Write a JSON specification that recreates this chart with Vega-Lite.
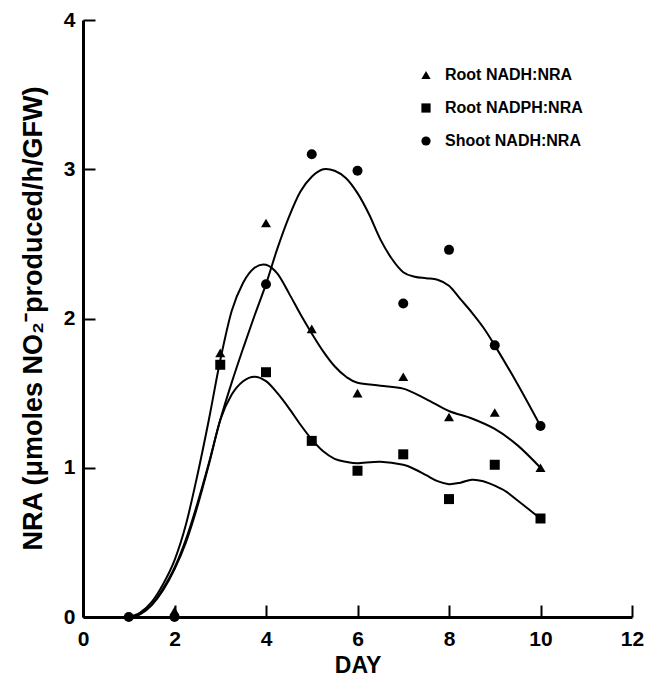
{
  "$schema": "https://vega.github.io/schema/vega-lite/v6.json",
  "width": 549,
  "height": 597,
  "autosize": {"type": "none"},
  "padding": {"left": 83, "top": 20, "right": 14, "bottom": 62},
  "background": "white",
  "config": {
    "view": {"stroke": null},
    "font": "Liberation Sans",
    "axis": {
      "grid": false,
      "domainColor": "black",
      "domainWidth": 3,
      "tickColor": "black",
      "tickWidth": 2,
      "tickSize": -12,
      "labelFont": "Liberation Sans",
      "labelFontWeight": "bold",
      "labelFontSize": 21,
      "labelColor": "black",
      "labelFlush": false,
      "labelOverlap": false,
      "titleFont": "Liberation Sans",
      "titleFontWeight": "bold",
      "titleColor": "black"
    }
  },
  "datasets": {
    "pts": [
      {"day": 1, "nra": 0, "series": "Shoot NADH:NRA"},
      {"day": 2, "nra": 0.0, "series": "Shoot NADH:NRA"},
      {"day": 2, "nra": 0.04, "series": "Root NADH:NRA"},
      {"day": 3, "nra": 1.77, "series": "Root NADH:NRA"},
      {"day": 4, "nra": 2.64, "series": "Root NADH:NRA"},
      {"day": 5, "nra": 1.93, "series": "Root NADH:NRA"},
      {"day": 6, "nra": 1.5, "series": "Root NADH:NRA"},
      {"day": 7, "nra": 1.61, "series": "Root NADH:NRA"},
      {"day": 8, "nra": 1.34, "series": "Root NADH:NRA"},
      {"day": 9, "nra": 1.37, "series": "Root NADH:NRA"},
      {"day": 10, "nra": 1.0, "series": "Root NADH:NRA"},
      {"day": 3, "nra": 1.69, "series": "Root NADPH:NRA"},
      {"day": 4, "nra": 1.64, "series": "Root NADPH:NRA"},
      {"day": 5, "nra": 1.18, "series": "Root NADPH:NRA"},
      {"day": 6, "nra": 0.98, "series": "Root NADPH:NRA"},
      {"day": 7, "nra": 1.09, "series": "Root NADPH:NRA"},
      {"day": 8, "nra": 0.79, "series": "Root NADPH:NRA"},
      {"day": 9, "nra": 1.02, "series": "Root NADPH:NRA"},
      {"day": 10, "nra": 0.66, "series": "Root NADPH:NRA"},
      {"day": 4, "nra": 2.23, "series": "Shoot NADH:NRA"},
      {"day": 5, "nra": 3.1, "series": "Shoot NADH:NRA"},
      {"day": 6, "nra": 2.99, "series": "Shoot NADH:NRA"},
      {"day": 7, "nra": 2.1, "series": "Shoot NADH:NRA"},
      {"day": 8, "nra": 2.46, "series": "Shoot NADH:NRA"},
      {"day": 9, "nra": 1.82, "series": "Shoot NADH:NRA"},
      {"day": 10, "nra": 1.28, "series": "Shoot NADH:NRA"}
    ],
    "curve": [
      {"day": 1.0, "nra": 0.0, "series": "Root NADH:NRA"},
      {"day": 1.25, "nra": 0.03, "series": "Root NADH:NRA"},
      {"day": 1.5, "nra": 0.1, "series": "Root NADH:NRA"},
      {"day": 1.75, "nra": 0.22, "series": "Root NADH:NRA"},
      {"day": 2.0, "nra": 0.38, "series": "Root NADH:NRA"},
      {"day": 2.25, "nra": 0.62, "series": "Root NADH:NRA"},
      {"day": 2.5, "nra": 0.95, "series": "Root NADH:NRA"},
      {"day": 2.75, "nra": 1.32, "series": "Root NADH:NRA"},
      {"day": 3.0, "nra": 1.72, "series": "Root NADH:NRA"},
      {"day": 3.25, "nra": 2.05, "series": "Root NADH:NRA"},
      {"day": 3.5, "nra": 2.24, "series": "Root NADH:NRA"},
      {"day": 3.75, "nra": 2.34, "series": "Root NADH:NRA"},
      {"day": 4.0, "nra": 2.36, "series": "Root NADH:NRA"},
      {"day": 4.25, "nra": 2.3, "series": "Root NADH:NRA"},
      {"day": 4.5, "nra": 2.17, "series": "Root NADH:NRA"},
      {"day": 4.75, "nra": 2.03, "series": "Root NADH:NRA"},
      {"day": 5.0, "nra": 1.9, "series": "Root NADH:NRA"},
      {"day": 5.25, "nra": 1.78, "series": "Root NADH:NRA"},
      {"day": 5.5, "nra": 1.68, "series": "Root NADH:NRA"},
      {"day": 5.75, "nra": 1.61, "series": "Root NADH:NRA"},
      {"day": 6.0, "nra": 1.57, "series": "Root NADH:NRA"},
      {"day": 6.5, "nra": 1.55, "series": "Root NADH:NRA"},
      {"day": 7.0, "nra": 1.53, "series": "Root NADH:NRA"},
      {"day": 7.5, "nra": 1.46, "series": "Root NADH:NRA"},
      {"day": 8.0, "nra": 1.38, "series": "Root NADH:NRA"},
      {"day": 8.5, "nra": 1.33, "series": "Root NADH:NRA"},
      {"day": 9.0, "nra": 1.26, "series": "Root NADH:NRA"},
      {"day": 9.5, "nra": 1.15, "series": "Root NADH:NRA"},
      {"day": 10.0, "nra": 1.0, "series": "Root NADH:NRA"},
      {"day": 1.0, "nra": 0.0, "series": "Root NADPH:NRA"},
      {"day": 1.25, "nra": 0.02, "series": "Root NADPH:NRA"},
      {"day": 1.5, "nra": 0.08, "series": "Root NADPH:NRA"},
      {"day": 1.75, "nra": 0.18, "series": "Root NADPH:NRA"},
      {"day": 2.0, "nra": 0.32, "series": "Root NADPH:NRA"},
      {"day": 2.25, "nra": 0.5, "series": "Root NADPH:NRA"},
      {"day": 2.5, "nra": 0.74, "series": "Root NADPH:NRA"},
      {"day": 2.75, "nra": 1.02, "series": "Root NADPH:NRA"},
      {"day": 3.0, "nra": 1.32, "series": "Root NADPH:NRA"},
      {"day": 3.25, "nra": 1.49, "series": "Root NADPH:NRA"},
      {"day": 3.5, "nra": 1.58, "series": "Root NADPH:NRA"},
      {"day": 3.75, "nra": 1.61, "series": "Root NADPH:NRA"},
      {"day": 4.0, "nra": 1.58, "series": "Root NADPH:NRA"},
      {"day": 4.25, "nra": 1.5, "series": "Root NADPH:NRA"},
      {"day": 4.5, "nra": 1.4, "series": "Root NADPH:NRA"},
      {"day": 4.75, "nra": 1.29, "series": "Root NADPH:NRA"},
      {"day": 5.0, "nra": 1.19, "series": "Root NADPH:NRA"},
      {"day": 5.25, "nra": 1.11, "series": "Root NADPH:NRA"},
      {"day": 5.5, "nra": 1.06, "series": "Root NADPH:NRA"},
      {"day": 5.75, "nra": 1.04, "series": "Root NADPH:NRA"},
      {"day": 6.0, "nra": 1.03, "series": "Root NADPH:NRA"},
      {"day": 6.5, "nra": 1.04, "series": "Root NADPH:NRA"},
      {"day": 7.0, "nra": 1.02, "series": "Root NADPH:NRA"},
      {"day": 7.25, "nra": 0.99, "series": "Root NADPH:NRA"},
      {"day": 7.5, "nra": 0.95, "series": "Root NADPH:NRA"},
      {"day": 7.75, "nra": 0.91, "series": "Root NADPH:NRA"},
      {"day": 8.0, "nra": 0.89, "series": "Root NADPH:NRA"},
      {"day": 8.25, "nra": 0.9, "series": "Root NADPH:NRA"},
      {"day": 8.5, "nra": 0.92, "series": "Root NADPH:NRA"},
      {"day": 8.75, "nra": 0.91, "series": "Root NADPH:NRA"},
      {"day": 9.0, "nra": 0.88, "series": "Root NADPH:NRA"},
      {"day": 9.25, "nra": 0.84, "series": "Root NADPH:NRA"},
      {"day": 9.5, "nra": 0.78, "series": "Root NADPH:NRA"},
      {"day": 9.75, "nra": 0.72, "series": "Root NADPH:NRA"},
      {"day": 10.0, "nra": 0.66, "series": "Root NADPH:NRA"},
      {"day": 1.0, "nra": 0.0, "series": "Shoot NADH:NRA"},
      {"day": 1.25, "nra": 0.02, "series": "Shoot NADH:NRA"},
      {"day": 1.5, "nra": 0.08, "series": "Shoot NADH:NRA"},
      {"day": 1.75, "nra": 0.19, "series": "Shoot NADH:NRA"},
      {"day": 2.0, "nra": 0.33, "series": "Shoot NADH:NRA"},
      {"day": 2.25, "nra": 0.52, "series": "Shoot NADH:NRA"},
      {"day": 2.5, "nra": 0.76, "series": "Shoot NADH:NRA"},
      {"day": 2.75, "nra": 1.03, "series": "Shoot NADH:NRA"},
      {"day": 3.0, "nra": 1.32, "series": "Shoot NADH:NRA"},
      {"day": 3.25, "nra": 1.57, "series": "Shoot NADH:NRA"},
      {"day": 3.5, "nra": 1.8, "series": "Shoot NADH:NRA"},
      {"day": 3.75, "nra": 2.02, "series": "Shoot NADH:NRA"},
      {"day": 4.0, "nra": 2.23, "series": "Shoot NADH:NRA"},
      {"day": 4.25, "nra": 2.47, "series": "Shoot NADH:NRA"},
      {"day": 4.5, "nra": 2.68, "series": "Shoot NADH:NRA"},
      {"day": 4.75, "nra": 2.85, "series": "Shoot NADH:NRA"},
      {"day": 5.0, "nra": 2.95, "series": "Shoot NADH:NRA"},
      {"day": 5.25, "nra": 3.0, "series": "Shoot NADH:NRA"},
      {"day": 5.5, "nra": 2.99, "series": "Shoot NADH:NRA"},
      {"day": 5.75, "nra": 2.94, "series": "Shoot NADH:NRA"},
      {"day": 6.0, "nra": 2.84, "series": "Shoot NADH:NRA"},
      {"day": 6.25, "nra": 2.7, "series": "Shoot NADH:NRA"},
      {"day": 6.5, "nra": 2.53, "series": "Shoot NADH:NRA"},
      {"day": 6.75, "nra": 2.4, "series": "Shoot NADH:NRA"},
      {"day": 7.0, "nra": 2.31, "series": "Shoot NADH:NRA"},
      {"day": 7.25, "nra": 2.28, "series": "Shoot NADH:NRA"},
      {"day": 7.5, "nra": 2.27, "series": "Shoot NADH:NRA"},
      {"day": 7.75, "nra": 2.26, "series": "Shoot NADH:NRA"},
      {"day": 8.0, "nra": 2.22, "series": "Shoot NADH:NRA"},
      {"day": 8.25, "nra": 2.13, "series": "Shoot NADH:NRA"},
      {"day": 8.5, "nra": 2.04, "series": "Shoot NADH:NRA"},
      {"day": 8.75, "nra": 1.94, "series": "Shoot NADH:NRA"},
      {"day": 9.0, "nra": 1.82, "series": "Shoot NADH:NRA"},
      {"day": 9.5, "nra": 1.56, "series": "Shoot NADH:NRA"},
      {"day": 10.0, "nra": 1.28, "series": "Shoot NADH:NRA"}
    ]
  },
  "layer": [
    {
      "data": {"name": "curve"},
      "mark": {"type": "line", "interpolate": "cardinal", "color": "black", "strokeWidth": 2},
      "encoding": {
        "x": {"field": "day", "type": "quantitative"},
        "y": {"field": "nra", "type": "quantitative"},
        "detail": {"field": "series", "type": "nominal"}
      }
    },
    {
      "data": {"name": "pts"},
      "mark": {"type": "point", "filled": true, "color": "black", "opacity": 1, "size": 100},
      "encoding": {
        "x": {
          "field": "day", "type": "quantitative",
          "scale": {"domain": [0, 12], "nice": false, "zero": true},
          "axis": {"values": [0, 2, 4, 6, 8, 10, 12], "format": "d", "title": "DAY", "titleFontSize": 23, "titleY": 37, "titleBaseline": "top", "labelPadding": 23}
        },
        "y": {
          "field": "nra", "type": "quantitative",
          "scale": {"domain": [0, 4], "nice": false},
          "axis": {"values": [0, 1, 2, 3, 4], "format": "d", "title": "NRA (μmoles NO₂⁻produced/h/GFW)", "titleFontSize": 27, "titleX": -36, "titleY": 298, "titleAngle": -90, "titleBaseline": "bottom", "titleAlign": "center", "labelPadding": 20}
        },
        "shape": {
          "field": "series", "type": "nominal",
          "scale": {"domain": ["Root NADH:NRA", "Root NADPH:NRA", "Shoot NADH:NRA"], "range": ["triangle-up", "square", "circle"]},
          "legend": {
            "title": null,
            "orient": "none",
            "legendX": 335,
            "legendY": 47,
            "labelFont": "Liberation Sans",
            "labelFontWeight": "bold",
            "labelFontSize": 16,
            "labelColor": "black",
            "symbolFillColor": "black",
            "symbolStrokeColor": "black",
            "symbolSize": 85,
            "symbolOpacity": 1,
            "rowPadding": 17,
            "labelOffset": 11
          }
        }
      }
    }
  ]
}
